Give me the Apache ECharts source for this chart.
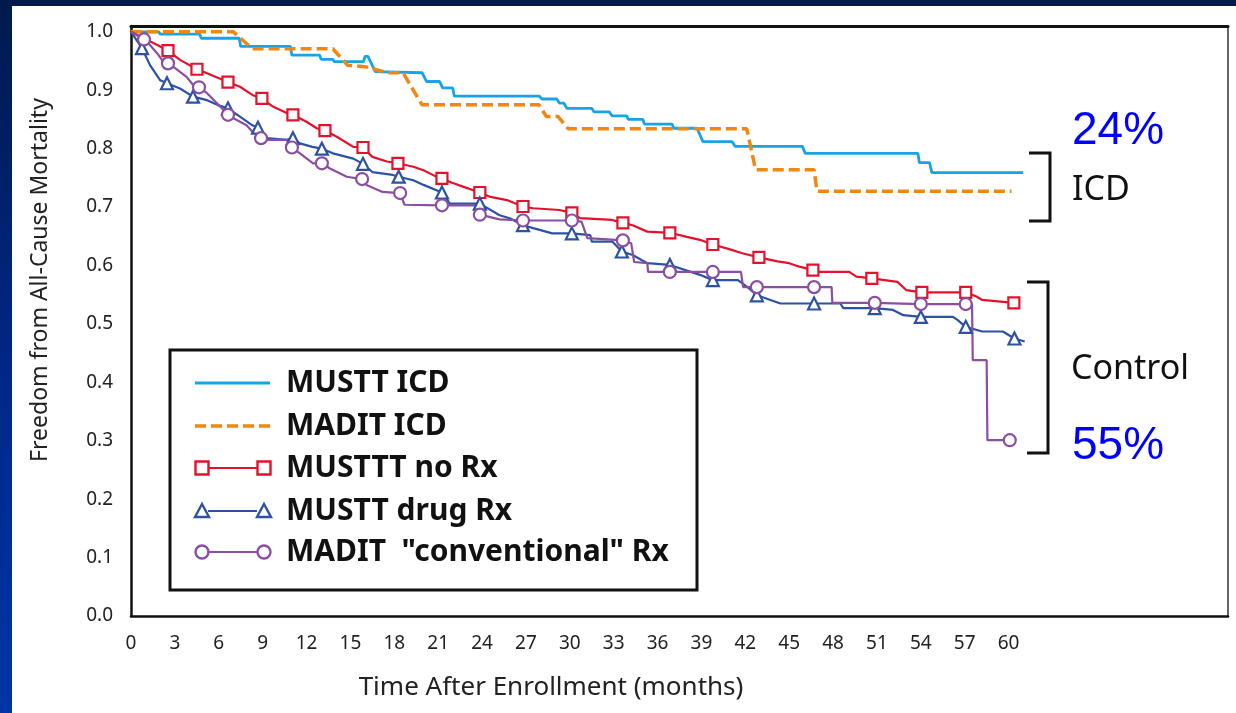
<!DOCTYPE html>
<html>
<head>
<meta charset="utf-8">
<title>Freedom from All-Cause Mortality</title>
<script src="https://cdn.jsdelivr.net/npm/echarts@6/dist/echarts.min.js"></script>
<style>
  html, body { margin: 0; padding: 0; width: 1236px; height: 713px; overflow: hidden;
    background: linear-gradient(180deg, #001a4c 0%, #00288a 55%, #0035a8 100%); }
  #panel { position: absolute; left: 12px; top: 6px; right: 0; bottom: 0; background: #fff; }
  #chart { position: absolute; left: 0; top: 0; width: 1236px; height: 713px; }
</style>
</head>
<body>
<div id="panel"></div>
<div id="chart"></div>
<script>
// Survival curves: [month, proportion alive]
const musttIcd = [[0,1.0],[1.9,1.0],[2.0,0.996],[4.7,0.996],[4.8,0.989],[7.4,0.989],[7.5,0.975],[10.9,0.975],[11.0,0.960],[12.9,0.960],[13.0,0.953],[13.8,0.953],[13.9,0.949],[15.9,0.949],[16.0,0.958],[16.2,0.958],[16.7,0.932],[19.9,0.930],[20.2,0.915],[21.1,0.915],[21.3,0.904],[22.0,0.904],[22.1,0.890],[27.9,0.890],[28.1,0.885],[29.1,0.885],[29.3,0.878],[29.6,0.878],[29.8,0.869],[31.5,0.869],[31.65,0.863],[32.7,0.863],[32.9,0.856],[33.9,0.856],[34.0,0.850],[35.0,0.850],[35.1,0.842],[37.0,0.842],[37.1,0.835],[38.7,0.835],[39.1,0.812],[41.1,0.812],[41.3,0.804],[45.9,0.804],[46.1,0.792],[53.8,0.792],[53.9,0.776],[54.6,0.776],[54.75,0.759],[61.0,0.759]];

const maditIcd = [[0,1.0],[7.0,1.0],[8.3,0.971],[13.8,0.971],[14.8,0.943],[16.1,0.940],[17.5,0.930],[18.6,0.930],[19.9,0.875],[27.9,0.875],[28.4,0.855],[29.2,0.855],[29.9,0.834],[42.1,0.834],[42.7,0.764],[46.7,0.764],[46.9,0.727],[60.2,0.727]];

const noRxPath = [[0,1.0],[0.8,0.99],[1.6,0.98],[3.35,0.952],[5.2,0.929],[7.45,0.906],[8.3,0.892],[9.7,0.872],[10.65,0.861],[12.0,0.846],[12.7,0.835],[14.1,0.820],[15.2,0.803],[16.5,0.786],[17.5,0.778],[19.3,0.769],[20.0,0.763],[20.8,0.753],[21.9,0.742],[22.7,0.735],[24.5,0.718],[25.7,0.712],[27.5,0.698],[29.3,0.695],[30.7,0.681],[32.9,0.678],[34.3,0.669],[35.3,0.658],[38.0,0.649],[38.9,0.644],[40.9,0.628],[41.8,0.621],[44.2,0.607],[45.0,0.604],[45.7,0.598],[47.1,0.589],[49.1,0.589],[49.6,0.581],[52.4,0.572],[53.0,0.558],[57.8,0.547],[58.2,0.541]];
const noRxMarks = [[2.53,0.968],[4.51,0.936],[6.63,0.914],[8.95,0.886],[11.07,0.858],[13.26,0.831],[15.86,0.802],[18.25,0.775],[21.26,0.749],[23.85,0.725],[26.8,0.701],[30.14,0.690],[33.63,0.673],[36.84,0.656],[39.78,0.636],[42.93,0.614],[46.62,0.592],[50.65,0.578],[54.07,0.554],[57.07,0.554],[60.36,0.536]];

const drugPath = [[0,1.0],[0.4,0.985],[1.3,0.943],[2.0,0.917],[3.35,0.903],[5.2,0.883],[5.9,0.875],[7.45,0.855],[8.3,0.840],[9.3,0.818],[10.65,0.815],[11.55,0.809],[12.4,0.803],[13.8,0.792],[15.2,0.783],[16.5,0.760],[17.9,0.755],[19.3,0.746],[20.0,0.738],[21.8,0.706],[25.2,0.686],[25.9,0.681],[27.5,0.664],[28.8,0.655],[31.4,0.652],[31.5,0.641],[32.9,0.641],[34.3,0.618],[35.3,0.604],[38.9,0.584],[41.5,0.575],[42.1,0.564],[44.4,0.535],[48.5,0.535],[48.7,0.527],[52.1,0.524],[52.8,0.515],[56.2,0.512],[56.5,0.507],[58.2,0.487],[59.6,0.487],[61.1,0.470]];
const drugMarks = [[0.75,0.972],[2.46,0.912],[4.24,0.889],[6.63,0.869],[8.68,0.836],[11.07,0.818],[13.05,0.800],[15.86,0.774],[18.3,0.752],[21.26,0.725],[23.85,0.706],[26.8,0.669],[30.14,0.655],[33.56,0.624],[36.84,0.601],[39.78,0.575],[42.79,0.549],[46.7,0.535],[50.85,0.527],[54.0,0.512],[57.07,0.495],[60.4,0.475]];

const convPath = [[0,1.0],[1.2,0.980],[1.8,0.963],[2.2,0.949],[2.9,0.940],[3.8,0.923],[4.25,0.909],[5.2,0.895],[6.1,0.872],[7.0,0.852],[7.9,0.840],[8.3,0.829],[9.3,0.815],[10.65,0.815],[11.55,0.792],[12.45,0.775],[13.6,0.766],[14.75,0.752],[16.1,0.738],[17.2,0.726],[18.7,0.704],[23.65,0.703],[25.2,0.679],[30.8,0.675],[31.2,0.647],[34.2,0.638],[34.4,0.606],[35.3,0.604],[35.35,0.589],[41.7,0.589],[41.85,0.563],[47.9,0.563],[47.95,0.536],[57.5,0.534],[57.55,0.438],[58.5,0.438],[58.55,0.301]];
const convMarks = [[0.89,0.987],[2.53,0.946],[4.65,0.905],[6.63,0.858],[8.89,0.818],[11.0,0.802],[13.05,0.775],[15.8,0.748],[18.4,0.724],[21.26,0.703],[23.85,0.687],[26.8,0.677],[30.14,0.677],[33.63,0.643],[36.84,0.589],[39.78,0.589],[42.79,0.563],[46.7,0.563],[50.85,0.536],[54.0,0.534],[57.07,0.534],[60.08,0.301]];

// Axis tick labels
const xTicks = [0,3,6,9,12,15,18,21,24,27,30,33,36,39,42,45,48,51,54,57,60];
const yTicks = ['0.0','0.1','0.2','0.3','0.4','0.5','0.6','0.7','0.8','0.9','1.0'];

const FONT = '"Noto Sans", "DejaVu Sans", sans-serif';

// Curve definitions (name, data, look)
const curves = [
  { name: 'MUSTT ICD', path: musttIcd, marks: null, color: '#17a3e6', width: 2.8, dash: null, symbol: null },
  { name: 'MADIT ICD', path: maditIcd, marks: null, color: '#f0880f', width: 3.5, dash: [11, 5], symbol: null },
  { name: 'MUSTTT no Rx', path: noRxPath, marks: noRxMarks, color: '#e3122c', width: 2.2, dash: null, symbol: 'rect', size: 11 },
  { name: 'MUSTT drug Rx', path: drugPath, marks: drugMarks, color: '#2d52a3', width: 2.2, dash: null, symbol: 'triangle', size: 12 },
  { name: 'MADIT  "conventional" Rx', path: convPath, marks: convMarks, color: '#8a4fa2', width: 2.2, dash: null, symbol: 'circle', size: 12 }
];

const series = [];
curves.forEach(c => {
  const full = (c.marks ? c.path.concat(c.marks) : c.path.slice()).sort((a, b) => a[0] - b[0]);
  series.push({
    name: c.name, type: 'line', data: full, showSymbol: false, symbol: 'none',
    lineStyle: { color: c.color, width: c.width, type: c.dash || 'solid' },
    itemStyle: { color: c.color }, z: 2, silent: true
  });
  if (c.marks) {
    series.push({
      name: c.name, type: 'scatter', data: c.marks, symbol: c.symbol, symbolSize: c.size,
      itemStyle: { color: '#fff', borderColor: c.color, borderWidth: 2.2, opacity: 1 }, z: 3, silent: true
    });
  }
});

// Legend box drawn as graphic
const legendRows = [383, 426, 468, 511, 552];
const legendChildren = [{
  type: 'rect', shape: { x: 170, y: 350, width: 527, height: 240 },
  style: { fill: '#fff', stroke: '#111', lineWidth: 3 }
}];
curves.forEach((c, i) => {
  const y = legendRows[i];
  if (!c.symbol) {
    legendChildren.push({ type: 'line', shape: { x1: 195, y1: y, x2: 270, y2: y },
      style: { stroke: c.color, lineWidth: c.width, lineDash: c.dash || null } });
  } else {
    legendChildren.push({ type: 'line', shape: { x1: 208, y1: y, x2: 257, y2: y },
      style: { stroke: c.color, lineWidth: c.width } });
    [202, 264].forEach(cx => {
      const st = { fill: '#fff', stroke: c.color, lineWidth: 2.4 };
      if (c.symbol === 'rect') legendChildren.push({ type: 'rect', shape: { x: cx - 6.5, y: y - 6.5, width: 13, height: 13 }, style: st });
      else if (c.symbol === 'triangle') legendChildren.push({ type: 'polygon', shape: { points: [[cx, y - 7], [cx + 7, y + 6], [cx - 7, y + 6]] }, style: st });
      else legendChildren.push({ type: 'circle', shape: { cx: cx, cy: y, r: 6.5 }, style: st });
    });
  }
  legendChildren.push({ type: 'text', x: 286, y: y,
    style: { text: c.name, font: 'bold 30px ' + FONT, fill: '#111', textVerticalAlign: 'middle', textAlign: 'left' } });
});

const bracket = (x1, x2, y1, y2) => ({
  type: 'polyline', shape: { points: [[x1, y1], [x2, y1], [x2, y2], [x1, y2]] },
  style: { stroke: '#111', lineWidth: 3, fill: null }
});

const option = {
  animation: false,
  backgroundColor: 'transparent',
  grid: { left: 131, right: 8, top: 26, bottom: 97, containLabel: false, outerBoundsMode: 'none' },
  xAxis: [{
    type: 'value', min: 0, max: 75, interval: 3, position: 'bottom',
    axisLine: { show: true, onZero: false, lineStyle: { color: '#111', width: 2.5 } },
    axisTick: { show: false }, splitLine: { show: false },
    axisLabel: { formatter: v => (xTicks.indexOf(v) >= 0 ? String(v) : ''), fontSize: 19, color: '#222', margin: 18, fontFamily: FONT }
  }, {
    type: 'value', min: 0, max: 75, position: 'top',
    axisLine: { show: true, onZero: false, lineStyle: { color: '#111', width: 3 } },
    axisTick: { show: false }, axisLabel: { show: false }, splitLine: { show: false }
  }],
  yAxis: [{
    type: 'value', min: 0, max: 1.01, interval: 0.1,
    axisLine: { show: true, onZero: false, lineStyle: { color: '#111', width: 2.5 } },
    axisTick: { show: false }, splitLine: { show: false },
    axisLabel: {
      formatter: v => { const k = Math.round(v * 10); return Math.abs(v * 10 - k) < 1e-6 && k <= 10 ? yTicks[k] : ''; },
      fontSize: 19, color: '#222', margin: 18, fontFamily: FONT
    }
  }, {
    type: 'value', min: 0, max: 1.01, position: 'right',
    axisLine: { show: true, onZero: false, lineStyle: { color: '#555', width: 1.8 } },
    axisTick: { show: false }, axisLabel: { show: false }, splitLine: { show: false }
  }],
  series: series,
  graphic: [
    { type: 'group', z: 10, children: legendChildren },
    { type: 'text', x: 40, y: 280, rotation: Math.PI / 2, z: 10,
      style: { text: 'Freedom from All-Cause Mortality', font: '23px ' + FONT, fill: '#222', textAlign: 'center', textVerticalAlign: 'middle' } },
    { type: 'text', x: 551, y: 688, z: 10,
      style: { text: 'Time After Enrollment (months)', font: '26px ' + FONT, fill: '#222', textAlign: 'center', textVerticalAlign: 'middle' } },
    bracket(1029, 1050, 153, 221),
    bracket(1027, 1048, 282, 453),
    { type: 'text', x: 1072, y: 131, z: 10,
      style: { text: '24%', font: '46px "Liberation Sans", Arial, sans-serif', fill: '#0000ff', textAlign: 'left', textVerticalAlign: 'middle' } },
    { type: 'text', x: 1072, y: 190, z: 10,
      style: { text: 'ICD', font: '34px ' + FONT, fill: '#111', textAlign: 'left', textVerticalAlign: 'middle' } },
    { type: 'text', x: 1071, y: 369, z: 10,
      style: { text: 'Control', font: '34px ' + FONT, fill: '#111', textAlign: 'left', textVerticalAlign: 'middle' } },
    { type: 'text', x: 1072, y: 446, z: 10,
      style: { text: '55%', font: '46px "Liberation Sans", Arial, sans-serif', fill: '#0000ff', textAlign: 'left', textVerticalAlign: 'middle' } }
  ]
};

const chart = echarts.init(document.getElementById('chart'), null, { renderer: 'canvas' });
chart.setOption(option);
</script>
</body>
</html>
